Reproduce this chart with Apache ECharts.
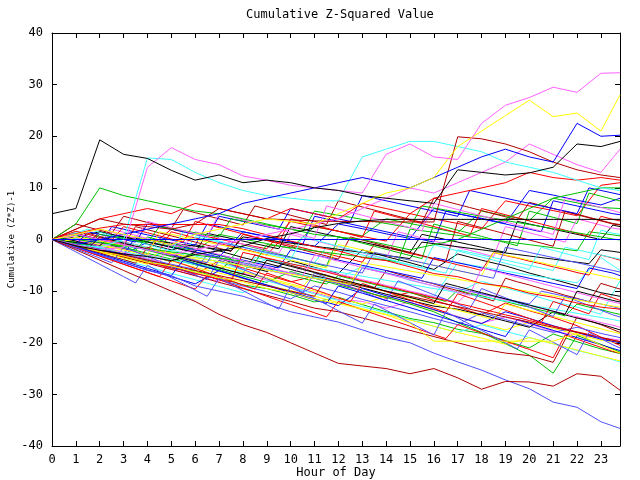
<!DOCTYPE html>
<html>
<head>
<meta charset="utf-8">
<script src="https://cdn.jsdelivr.net/npm/echarts/dist/echarts.min.js"></script>
<style>
  html, body { margin: 0; padding: 0; background: #fff; }
  #chart { width: 640px; height: 480px; }
</style>
</head>
<body>
<div id="chart"></div>
<script>
// sample times (last sample at 23:48)
var hours = [0,1,2,3,4,5,6,7,8,9,10,11,12,13,14,15,16,17,18,19,20,21,22,23,23.8];
var halfHours = [0,0.5,1,1.5,2,2.5,3,3.5,4,4.5,5,5.5,6,6.5,7,7.5,8,8.5,9,9.5,10,10.5,11,11.5,
  12,12.5,13,13.5,14,14.5,15,15.5,16,16.5,17,17.5,18,18.5,19,19.5,20,20.5,21,21.5,22,22.5,23,23.5,23.8];

var colors = {
  R: '#ff0000', G: '#00c000', B: '#0000ff', M: '#ff60ff', C: '#40ffff',
  D: '#b00000', Y: '#ffff00', K: '#000000', S: '#5050ff'
};

// ---- distinct lines (hourly) ----
var kHump   = [5,6,19.3,16.5,15.7,13.4,11.5,12.5,11,11.5,11,10,9.5,8.5,8,7.5,7,13.5,13,12.5,12.9,14,18.5,18,19];
var mTop    = [0,-1,-2,-1.5,14,17.8,15.5,14.5,12.3,11.5,10.5,10,9.5,9,16.5,18.5,16,15.5,22.5,26,27.5,29.5,28.5,32.2,32.3];
var yTop    = [0,1,2,1,0,-1,1,2,3,4,3.5,3,5,7,9,10,12,18,21,24,27,23.8,24.5,21,28];
var bTop    = [0,-1,0,1,2,3,4,5,7,8,9,10,11,12,11,10,12,14,16,17.5,16,15,22.5,20,20.2];
var dTop    = [0,2,4,3,2.5,2,3,6,5,4,3.8,3.6,3.5,3.5,3.4,3.4,3.4,19.9,19.5,18.5,17,15,13.5,12.5,12];
var cTop    = [0,-1,-1.5,0,15.8,15.5,13,11,9.5,8.5,8,7.5,7.5,16,17.5,19,19,18,17,15,14,13,11.5,10,9.5];
var mSecond = [0,1,0,-1,-2,-3,-2,-1,0,1,2,3,4,6,8,10,9,11,13,15,18.5,16.5,14.5,13,17.5];
var gPeak   = [0,3,10,8.5,7.5,6.5,5.5,5,4,3,2,1,0.5,0,-1,-2,-1,0,2,4,6,8,9,10,10];
var rHigh   = [0,2,4,5,6,5,7,6,5,4,6,5,4,7,6,5,8,9,10,11,13,12,11.5,12,11.5];
var bZero   = [0,0,0,0,0,0,0,0,0,0,0,0,0,0,0,0,0,0,0,0,0,0,0,0,0];
var kFlat   = [0,-1.2,-2.1,-2.8,-3.3,-4.1,-2.9,-2.2,-1.3,0.2,1.1,2.3,3.1,3.6,3.9,3.9,3.9,3.9,3.9,3.9,3.9,3.9,3.9,3.9,3.9];
var yFlat   = [0,-1.1,-2.3,-3.2,-4.4,-5.1,-6.3,-7.4,-8.2,-9.5,-10.3,-11.6,-12.4,-13.5,-14.6,-16.2,-19.7,-19.7,-19.7,-19.7,-19.7,-19.7,-18.2,-20.5,-22.0];
var rFlat   = [0,1.1,2.2,2.9,2.9,2.9,2.9,2.9,2.1,0.9,-0.3,-1.4,-2.2,-3.5,-4.1,-5.3,-6.6,-7.2,-8.5,-9.1,-10.4,-11.2,-12.3,-13.1,-13.5];
var sBottom = [0,-1.5,-3,-4.5,-6,-7,-9,-10,-11,-12.5,-14,-15,-16,-17.5,-19,-20,-22,-23.7,-25.3,-27.2,-28.9,-31.5,-32.5,-35.3,-36.6];
var dBottom = [0,-2,-4,-6,-8,-10,-12,-14.5,-16.5,-18,-20,-22,-24,-24.5,-25,-26,-25,-26.8,-29,-27.5,-27.6,-28.4,-26,-26.5,-29.2];

// ---- bundle, hourly ----
var r1 = [0,-1.2,-2.5,-3.1,-4.6,-5.2,-6.8,-4.1,-5.5,-6.9,-8.2,-7.1,-8.5,-9.9,-11.4,-10.2,-11.8,-13.1,-14.6,-12.3,-13.8,-15.1,-16.7,-18.9,-20.5];
var g1 = [0,-0.8,-1.9,-3.5,-4.2,-5.6,-6.1,-7.4,-8.8,-9.5,-10.7,-12.1,-11.2,-12.6,-14.0,-15.3,-16.1,-17.4,-18.2,-19.6,-21.0,-18.3,-19.8,-21.2,-22.1];
var m1 = [0,-1.0,-2.3,-3.0,-4.4,-5.7,-7.0,-8.1,-6.5,-7.9,-9.2,-10.3,-11.6,-12.0,-13.3,-12.1,-13.6,-14.9,-16.2,-15.0,-16.3,-17.8,-18.5,-19.0,-19.5];
var c1 = [0,-0.6,-1.5,-2.8,-3.6,-2.0,-3.2,-4.4,-5.9,-3.8,-5.0,-6.3,-7.5,-5.2,-6.4,-7.9,-9.0,-10.2,-8.1,-9.4,-10.6,-12.0,-13.1,-14.5,-8.0];
var y1 = [0,-0.9,-1.8,-2.6,-3.9,-5.1,-6.4,-5.0,-6.2,-7.6,-8.9,-10.0,-11.4,-12.5,-11.0,-12.3,-13.7,-15.0,-16.3,-17.5,-16.0,-17.2,-18.4,-19.5,-20.0];
var k1 = [0,-1.1,-0.5,-1.8,-3.0,-4.3,-2.5,-3.7,-5.0,-6.2,-4.1,-5.4,-6.6,-2.0,-3.3,-4.5,-5.8,-2.8,-4.0,-5.1,-6.5,-7.7,-9.0,-10.3,-11.0];
var s1 = [0,-0.7,-1.6,-2.9,-4.0,-5.3,-6.5,-7.8,-9.0,-10.1,-11.5,-9.0,-10.2,-11.6,-12.8,-14.0,-15.3,-16.5,-14.2,-15.5,-16.8,-18.0,-17.0,-18.2,-19.0];
var g2 = [0,-1.3,-2.0,-0.8,-2.1,-3.3,-4.6,-5.8,-7.1,-8.3,-6.2,-7.5,-8.8,-10.0,-11.2,-12.5,-14.0,-16.1,-18.0,-20.2,-22.4,-25.9,-18.6,-20.3,-21.8];
var c2 = [0,-1.4,-2.7,-4.0,-5.2,-6.6,-7.8,-9.1,-10.3,-8.0,-9.3,-10.5,-11.8,-13.0,-14.2,-15.5,-16.8,-18.0,-16.5,-17.8,-19.0,-20.2,-21.5,-22.6,-23.7];
var d2 = [0,-0.9,-2.1,-3.4,-4.6,-5.8,-7.0,-8.3,-9.5,-10.8,-12.0,-13.3,-14.0,-15.2,-16.4,-17.6,-18.8,-20.0,-21.2,-22.0,-22.5,-23.8,-15.0,-16.5,-18.0];
var y2 = [0,-0.3,-1.2,-2.0,-3.1,-4.2,-5.4,-6.5,-7.6,-8.8,-9.9,-11.0,-12.2,-13.4,-14.5,-15.6,-16.8,-18.0,-19.1,-20.3,-19.0,-20.2,-21.4,-22.6,-23.5];
var k2 = [0,0.4,1.5,0.3,-0.9,-2.0,-1.0,-2.2,-3.5,-4.6,-5.8,-7.0,-8.1,-9.4,-10.6,-11.8,-12.9,-13.5,-14.6,-15.8,-17.0,-14.0,-15.2,-16.4,-17.5];
var b3 = [0,-1.6,-3.0,-4.5,-5.9,-7.2,-8.6,-6.0,-7.4,-8.8,-10.1,-11.5,-12.8,-9.5,-10.9,-12.2,-13.6,-15.0,-16.3,-14.0,-15.3,-16.7,-18.0,-19.3,-20.0];
var c4 = [0,0.2,-0.5,-1.3,-2.0,-2.8,-3.5,-4.3,-5.0,-5.8,-6.5,-7.3,-8.0,-8.8,-9.5,-10.3,-11.0,-4.5,-5.3,-6.1,-6.9,-7.6,-8.4,-3.5,-6.0];
var g5 = [0,-0.5,-1.2,0.5,-0.4,-1.3,-2.2,1.0,0.1,-0.8,-1.7,2.5,1.6,0.7,4.0,3.1,2.2,1.3,5.5,4.6,3.7,8.0,7.1,6.2,6.0];
var b5 = [0,-1.0,-2.0,-2.9,-0.5,-1.5,-2.4,-3.4,1.5,0.6,-0.4,-1.3,3.0,2.1,1.1,0.2,6.0,5.0,4.1,3.1,9.5,8.6,7.6,6.7,8.0];
var r5 = [0,1.0,0.1,-0.9,-1.8,2.0,1.0,0.1,-0.9,-1.8,3.5,2.5,1.6,0.6,-0.3,5.0,4.0,3.1,2.1,7.5,6.5,5.6,4.6,10.5,11.0];

// ---- bundle, half-hourly ----
var h01 = [0,-0.4,-0.9,1.2,0.6,0.1,-0.5, -1.0,-1.6,-2.1,1.5,0.9,0.3,-0.2, -0.8,-1.3,-1.9,-2.4,-3.0,-0.5,-1.1,
  -1.6,-2.2,-2.7,-3.3,-3.8,-4.4,-1.0, -1.6,-2.1,-2.7,-3.2,-3.8,-4.3,-4.9, -5.4,-6.0,-2.5,-3.1,-3.6,-4.2,-4.7,
  -5.3,-5.8,-6.4,-6.9,-3.0,-3.6,-4.0];
var h02 = [0,-0.6,-1.1,-1.7,-2.2,-1.0,-1.6, -2.1,-2.7,-3.2,-3.8,-4.3,-4.9,-5.4, -6.0,-4.2,-4.8,-5.3,-5.9,-6.4,-7.0,
  -7.5,-8.1,-8.6,-7.0,-7.6,-8.1,-8.7, -9.2,-9.8,-10.3,-10.9,-11.4,-12.0,-9.8, -10.4,-10.9,-11.5,-12.0,-12.6,-13.1,-13.7,
  -14.2,-14.8,-12.5,-13.1,-13.6,-14.2,-14.5];
var h03 = [0,0.3,-0.2,-0.7,-1.2,2.5,2.0, 1.4,0.9,0.4,-0.1,-0.6,-1.1,3.0, 2.5,2.0,1.5,1.0,0.5,0.0,-0.5,
  -1.0,4.5,4.0,3.5,3.0,2.5,2.0, 1.5,1.0,0.5,0.0,-0.5,5.5,5.0, 4.5,4.0,3.5,3.0,2.5,2.0,1.5,
  7.5,7.0,6.5,6.0,5.5,5.0,4.8];
var h04 = [0,-0.5,-1.0,-0.2,-0.8,-1.3,-1.9, -2.4,-3.0,-3.5,-4.1,-2.0,-2.6,-3.1, -3.7,-4.2,-4.8,-5.3,-5.9,-6.4,-7.0,
  -5.0,-5.6,-6.1,-6.7,-7.2,-7.8,-8.3, -8.9,-9.4,-10.0,-10.5,-11.1,-11.6,-12.2, -10.0,-10.6,-11.1,-11.7,-12.2,-12.8,-13.3,
  -13.9,-14.4,-15.0,-15.5,-16.1,-16.6,-17.0];
var h05 = [0,0.5,1.5,1.0,0.5,0.0,-0.5, -1.0,-1.5,-2.0,-2.5,-3.0,0.5,0.0, -0.5,-1.0,-1.5,-2.0,-2.5,-3.0,-3.5,
  -4.0,-4.5,-1.5,-2.0,-2.5,-3.0,-3.5, -4.0,-4.5,-5.0,-5.5,-6.0,-6.5,-2.0, -2.5,-3.0,-3.5,-4.0,-4.5,-5.0,-5.5,
  -6.0,-1.5,-2.0,-2.5,-3.0,-3.5,-3.8];
var h06 = [0,-0.7,-1.3,-2.0,-2.6,-3.3,-3.9, -4.6,-1.5,-2.2,-2.8,-3.5,-4.1,-4.8, -5.4,-6.1,-6.7,-3.0,-3.7,-4.3,-5.0,
  -5.6,-6.3,-6.9,-7.6,-8.2,-8.9,-9.5, -6.0,-6.7,-7.3,-8.0,-8.6,-9.3,-9.9, -10.6,-11.2,-11.9,-7.5,-8.2,-8.8,-9.5,
  -10.1,-10.8,-11.4,-12.1,-8.5,-9.2,-9.6];
var h07 = [0,-0.6,-1.2,-1.8,-2.4,-3.0,-3.6, -4.2,-4.8,-2.0,-2.6,-3.2,-3.8,-4.4, -5.0,-5.6,-6.2,-6.8,-7.4,-8.0,-8.6,
  -9.2,-6.5,-7.1,-7.7,-8.3,-8.9,-9.5, -10.1,-10.7,-11.3,-11.9,-12.5,-13.1,-13.7, -14.3,-14.9,-15.5,-12.5,-13.1,-13.7,-14.3,
  -14.9,-15.5,-16.1,-16.7,-17.3,-17.9,-18.2];
var h08 = [0,0.2,-0.3,-0.8,1.5,1.0,0.5, 0.0,-0.5,-1.0,-1.5,-2.0,-2.5,1.2, 0.7,0.2,-0.3,-0.8,-1.3,-1.8,2.5,
  2.0,1.5,1.0,0.5,0.0,-0.5,-1.0, -1.5,-2.0,-2.5,1.0,0.5,0.0,-0.5, -1.0,-1.5,-2.0,-2.5,3.5,3.0,2.5,
  2.0,1.5,1.0,0.5,0.0,2.8,2.5];
var h09 = [0,-0.3,-0.8,-1.3,-1.8,-2.3,-2.8, -3.3,-3.8,-4.3,-4.8,-5.3,-5.8,-3.0, -3.5,-4.0,-4.5,-5.0,-5.5,-6.0,-6.5,
  -7.0,-7.5,-8.0,-8.5,-9.0,-5.5,-6.0, -6.5,-7.0,-7.5,-8.0,-8.5,-9.0,-9.5, -10.0,-10.5,-11.0,-11.5,-12.0,-12.5,-10.0,
  -10.5,-11.0,-11.5,-12.0,-12.5,-13.0,-13.4];
var h10 = [0,-0.8,-1.6,-2.4,-3.2,-4.0,-4.8, -5.6,-6.4,-7.2,-4.0,-4.8,-5.6,-6.4, -7.2,-8.0,-8.8,-9.6,-6.5,-7.3,-8.1,
  -8.9,-9.7,-10.5,-11.3,-12.1,-8.5,-9.3, -10.1,-10.9,-11.7,-12.5,-13.3,-14.1,-10.5, -11.3,-12.1,-12.9,-13.7,-14.5,-15.3,-16.1,
  -12.0,-12.8,-13.6,-14.4,-10.5,-11.3,-11.8];
var h11 = [0,0.4,0.9,0.3,-0.3,-0.9,-1.5, -2.1,0.5,-0.1,-0.7,-1.3,-1.9,-2.5, -3.1,-3.7,-1.0,-1.6,-2.2,-2.8,-3.4,
  -4.0,-4.6,-5.2,0.5,-0.1,-0.7,-1.3, -1.9,-2.5,-3.1,-3.7,3.0,2.4,1.8, 1.2,0.6,0.0,-0.6,-1.2,5.5,4.9,
  4.3,3.7,3.1,9.0,8.4,7.8,7.5];
var h12 = [0,-0.5,-1.0,-1.5,-2.0,-2.5,-3.0, 0.5,0.0,-0.5,-1.0,-1.5,-2.0,-2.5, -3.0,-3.5,-4.0,-4.5,-5.0,-5.5,-2.0,
  -2.5,-3.0,-3.5,-4.0,-4.5,-5.0,-5.5, -6.0,-6.5,-7.0,-7.5,-3.5,-4.0,-4.5, -5.0,-5.5,-6.0,-6.5,-7.0,-7.5,-8.0,
  -8.5,-9.0,-9.5,-5.5,-6.0,-6.5,-7.0];
var h13 = [0,1.0,0.4,-0.2,-0.8,2.0,1.4, 0.8,0.2,-0.4,-1.0,-1.6,1.5,0.9, 0.3,-0.3,-0.9,-1.5,-2.1,-2.7,1.0,
  0.4,-0.2,-0.8,-1.4,-2.0,-2.6,-3.2, -3.8,1.5,0.9,0.3,-0.3,-0.9,-1.5, -2.1,-2.7,-3.3,2.5,1.9,1.3,0.7,
  0.1,-0.5,4.0,3.4,2.8,2.2,2.0];
var h14 = [0,-0.4,-0.8,-1.2,-1.6,-2.0,-2.4, -2.8,-3.2,-3.6,-4.0,-4.4,-4.8,-5.2, -5.6,-6.0,-6.4,-3.5,-3.9,-4.3,-4.7,
  -5.1,-5.5,-5.9,-6.3,-6.7,-7.1,-7.5, -7.9,-8.3,-8.7,-9.1,-9.5,-9.9,-10.3, -10.7,-11.1,-11.5,-11.9,-12.3,-12.7,-13.1,
  -13.5,-13.9,-14.3,-14.7,-15.1,-15.5,-15.8];
var h15 = [0,0.6,1.2,0.6,0.0,-0.6,-1.2, 2.5,1.9,1.3,0.7,0.1,-0.5,-1.1, -1.7,-2.3,1.0,0.4,-0.2,-0.8,-1.4,
  -2.0,-2.6,-3.2,-3.8,0.5,-0.1,-0.7, -1.3,-1.9,-2.5,-3.1,-3.7,-4.3,3.5, 2.9,2.3,1.7,1.1,0.5,-0.1,-0.7,
  -1.3,5.5,4.9,4.3,3.7,3.1,2.9];
var h16 = [0,0.5,0.0,-0.5,-1.0,-1.5,-2.0, -2.5,-3.0,1.5,1.0,0.5,0.0,-0.5, -1.0,-1.5,-2.0,-2.5,-3.0,-3.5,-4.0,
  -4.5,-5.0,-5.5,-1.0,-1.5,-2.0,-2.5, -3.0,-3.5,-4.0,-4.5,-5.0,-5.5,-6.0, -6.5,-7.0,-2.5,-3.0,-3.5,-4.0,-4.5,
  -5.0,-5.5,-6.0,-6.5,-7.0,-7.5,-7.8];
var h17 = [0,-0.9,-1.8,-2.7,-3.6,-4.5,-1.5, -2.4,-3.3,-4.2,-5.1,-6.0,-6.9,-7.8, -4.0,-4.9,-5.8,-6.7,-7.6,-8.5,-9.4,
  -10.3,-6.5,-7.4,-8.3,-9.2,-10.1,-11.0, -11.9,-8.0,-8.9,-9.8,-10.7,-11.6,-12.5, -13.4,-9.5,-10.4,-11.3,-12.2,-13.1,-14.0,
  -14.9,-11.0,-11.9,-12.8,-13.7,-14.6,-15.0];
var h18 = [0,-0.3,-0.6,-0.9,-1.2,0.8,0.5, 0.2,-0.1,-0.4,-0.7,-1.0,-1.3,-1.6, -1.9,-2.2,0.5,0.2,-0.1,-0.4,-0.7,
  -1.0,-1.3,-1.6,-1.9,-2.2,-2.5,-2.8, -3.1,-3.4,-3.7,-0.5,-0.8,-1.1,-1.4, -1.7,-2.0,-2.3,-2.6,-2.9,-3.2,-3.5,
  -3.8,-4.1,-4.4,-4.7,-2.0,-2.3,-2.5];
var h19 = [0,-0.5,-1.1,-1.6,-2.2,-2.7,-3.3, -3.8,-4.4,-4.9,-5.5,-6.0,-6.6,-7.1, -7.7,-8.2,-2.5,-3.0,-3.6,-4.1,-4.7,
  -5.2,-5.8,-6.3,-6.9,-7.4,-8.0,-8.5, -9.1,-9.6,-10.2,-10.7,-11.3,-11.8,-12.4, -12.9,-13.5,-14.0,-14.6,-15.1,-15.7,-16.2,
  -16.8,-17.3,-17.9,-18.4,-19.0,-19.5,-19.8];
var h20 = [0,0.3,0.0,-0.3,-0.6,-0.9,-1.2, -1.5,-1.8,-2.1,-2.4,-2.7,-3.0,-3.3, -3.6,-3.9,-4.2,-4.5,-1.0,-1.3,-1.6,
  -1.9,-2.2,-2.5,-2.8,-3.1,-3.4,-3.7, -4.0,-4.3,2.0,1.7,1.4,1.1,0.8, 0.5,0.2,-0.1,-0.4,-0.7,-1.0,-1.3,
  -1.6,-1.9,-2.2,1.5,1.2,0.9,0.7];
var h21 = [0,-0.7,-1.4,-2.1,-2.8,-3.5,-4.2, -4.9,-5.6,-6.3,-7.0,-4.0,-4.7,-5.4, -6.1,-6.8,-7.5,-8.2,-8.9,-9.6,-10.3,
  -11.0,-11.7,-12.4,-9.0,-9.7,-10.4,-11.1, -11.8,-12.5,-13.2,-13.9,-14.6,-15.3,-16.0, -16.7,-17.4,-18.1,-18.8,-15.5,-16.2,-16.9,
  -17.6,-18.3,-19.0,-19.7,-20.4,-21.1,-21.5];
var h22 = [0,0.5,-0.1,-0.7,-1.3,-1.9,-2.5, -3.1,-3.7,-4.3,-0.5,-1.1,-1.7,-2.3, -2.9,-3.5,-4.1,-4.7,-5.3,-5.9,-6.5,
  -7.1,-3.0,-3.6,-4.2,-4.8,-5.4,-6.0, -6.6,-7.2,-7.8,-8.4,-9.0,-9.6,-10.2, -10.8,-5.5,-6.1,-6.7,-7.3,-7.9,-8.5,
  -9.1,-9.7,-10.3,-10.9,-11.5,-12.1,-12.4];
var h23 = [0,0.6,1.2,2.0,1.4,0.8,0.2, -0.4,-1.0,-1.6,-2.2,1.5,0.9,0.3, -0.3,-0.9,-1.5,-2.1,-2.7,-3.3,-3.9,
  0.5,-0.1,-0.7,-1.3,-1.9,-2.5,-3.1, -3.7,-4.3,-4.9,-5.5,-1.0,-1.6,-2.2, -2.8,-3.4,-4.0,-4.6,-5.2,-5.8,-1.5,
  -2.1,-2.7,-3.3,-3.9,1.8,1.2,1.0];
var h24 = [0,-0.5,-1.0,-1.5,-2.0,-2.5,-3.0, -3.5,-4.0,-4.5,-5.0,-5.5,-6.0,-6.5, -7.0,-7.5,-8.0,-8.5,-9.0,-9.5,-10.0,
  -10.5,-11.0,-7.5,-8.0,-8.5,-9.0,-9.5, -10.0,-10.5,-11.0,-11.5,-12.0,-12.5,-13.0, -13.5,-14.0,-14.5,-15.0,-15.5,-16.0,-16.5,
  -17.0,-17.5,-18.0,-18.5,-19.0,-19.5,-19.8];
var h25 = [0,-0.4,0.5,0.1,-0.3,-0.7,-1.1, -1.5,-1.9,-2.3,-2.7,-3.1,-3.5,-3.9, -4.3,-4.7,-5.1,-5.5,-5.9,-6.3,-6.7,
  -7.1,-7.5,-7.9,-8.3,-8.7,-4.5,-4.9, -5.3,-5.7,-6.1,-6.5,-6.9,-7.3,-7.7, -8.1,-8.5,-8.9,-9.3,-9.7,-10.1,-10.5,
  -10.9,-11.3,-11.7,-12.1,-12.5,-12.9,-13.1];
var h26 = [0,-0.6,-1.2,-1.8,0.5,-0.1,-0.7, -1.3,-1.9,-2.5,-3.1,-3.7,-4.3,-4.9, -5.5,-6.1,-6.7,-7.3,-4.0,-4.6,-5.2,
  -5.8,-6.4,-7.0,-7.6,-8.2,-8.8,-9.4, -10.0,-10.6,-11.2,-11.8,-12.4,-8.5,-9.1, -9.7,-10.3,-10.9,-11.5,-12.1,-12.7,-13.3,
  -13.9,-14.5,-10.0,-10.6,-11.2,-11.8,-12.1];
var h27 = [0,0.5,1.0,0.5,0.0,-0.5,-1.0, -1.5,-2.0,-2.5,-3.0,-3.5,-4.0,-4.5, -0.5,-1.0,-1.5,-2.0,-2.5,-3.0,-3.5,
  -4.0,-4.5,-5.0,-5.5,-6.0,-6.5,-2.5, -3.0,-3.5,-4.0,-4.5,-5.0,-5.5,-6.0, -6.5,-7.0,-7.5,-1.5,-2.0,-2.5,-3.0,
  -3.5,-4.0,-4.5,-5.0,-5.5,-6.0,-6.3];
var h28 = [0,-0.8,-1.6,-2.4,-3.2,-4.0,-4.8, -5.6,-6.4,-7.2,-8.0,-8.8,-9.6,-7.0, -7.8,-8.6,-9.4,-10.2,-11.0,-11.8,-12.6,
  -13.4,-14.2,-15.0,-12.0,-12.8,-13.6,-14.4, -15.2,-16.0,-16.8,-17.6,-18.4,-19.2,-16.5, -17.3,-18.1,-18.9,-19.7,-20.5,-21.3,-22.1,
  -22.9,-18.5,-19.3,-20.1,-20.9,-21.7,-22.0];
// upper part of the bundle
var u1 = [0,1.5,3.0,2.4,1.8,1.2,4.5, 3.9,3.3,2.7,2.1,5.8,5.2,4.6, 4.0,3.4,2.8,6.5,5.9,5.3,4.7,
  4.1,3.5,2.9,7.5,6.9,6.3,5.7, 5.1,4.5,3.9,3.3,8.0,7.4,6.8, 6.2,5.6,5.0,4.4,3.8,7.2,6.6,
  6.0,5.4,4.8,4.2,3.6,3.0,2.8];
var u2 = [0,-0.5,-1.0,1.5,1.0,0.5,0.0, -0.5,3.0,2.5,2.0,1.5,1.0,0.5, 4.5,4.0,3.5,3.0,2.5,2.0,6.0,
  5.5,5.0,4.5,4.0,3.5,8.5,8.0, 7.5,7.0,6.5,6.0,5.5,5.0,4.5, 9.5,9.0,8.5,8.0,7.5,7.0,6.5,
  6.0,5.5,5.0,10.0,9.5,9.0,8.7];
var u3 = [0,0.8,1.6,1.0,0.4,-0.2,2.5, 1.9,1.3,0.7,0.1,-0.5,3.5,2.9, 2.3,1.7,1.1,0.5,-0.1,-0.7,4.0,
  3.4,2.8,2.2,1.6,1.0,0.4,5.5, 4.9,4.3,3.7,3.1,2.5,1.9,1.3, 0.7,6.0,5.4,4.8,4.2,3.6,3.0,
  2.4,1.8,1.2,0.6,4.5,3.9,3.6];
var u4 = [0,-0.4,-0.8,-1.2,1.0,0.6,0.2, -0.2,-0.6,2.5,2.1,1.7,1.3,0.9, 0.5,4.0,3.6,3.2,2.8,2.4,2.0,
  1.6,5.5,5.1,4.7,4.3,3.9,3.5, 3.1,2.7,2.3,6.5,6.1,5.7,5.3, 4.9,4.5,4.1,3.7,3.3,2.9,2.5,
  2.1,1.7,1.3,0.9,0.5,0.1,-0.1];
var u5 = [0,-1.2,-2.4,-3.6,-4.8,-6.0,-7.2, -8.4,-5.0,-6.2,-7.4,-8.6,-9.8,-11.0, -7.5,-8.7,-9.9,-11.1,-12.3,-13.5,-9.0,
  -10.2,-11.4,-12.6,-13.8,-15.0,-16.2,-12.5, -13.7,-14.9,-16.1,-17.3,-18.5,-14.0,-15.2, -16.4,-17.6,-18.8,-20.0,-21.2,-17.5,-18.7,
  -19.9,-21.1,-22.3,-18.0,-19.2,-20.4,-21.0];
var u6 = [0,0.5,1.0,1.5,2.0,1.4,0.8, 0.2,3.5,2.9,2.3,1.7,1.1,0.5, 5.0,4.4,3.8,3.2,2.6,2.0,1.4,
  0.8,0.2,6.5,5.9,5.3,4.7,4.1, 3.5,2.9,2.3,1.7,7.0,6.4,5.8, 5.2,4.6,4.0,3.4,2.8,2.2,1.6,
  1.0,8.0,7.4,6.8,6.2,5.6,5.2];

// [colour key, x values, y values]
var lines = [
  ['R', hours, r1], ['G', hours, g1], ['M', hours, m1], ['C', hours, c1], ['Y', hours, y1], ['K', hours, k1],
  ['S', hours, s1], ['G', hours, g2], ['C', hours, c2], ['D', hours, d2], ['Y', hours, y2], ['K', hours, k2],
  ['B', hours, b3], ['C', hours, c4], ['G', hours, g5], ['B', hours, b5], ['R', hours, r5],
  ['R', halfHours, h01], ['G', halfHours, h02], ['B', halfHours, h03], ['M', halfHours, h04],
  ['C', halfHours, h05], ['D', halfHours, h06], ['Y', halfHours, h07], ['K', halfHours, h08],
  ['S', halfHours, h09], ['R', halfHours, h10], ['G', halfHours, h11], ['B', halfHours, h12],
  ['M', halfHours, h13], ['C', halfHours, h14], ['D', halfHours, h15], ['Y', halfHours, h16],
  ['S', halfHours, h17], ['K', halfHours, h18], ['R', halfHours, h19], ['G', halfHours, h20],
  ['B', halfHours, h21], ['M', halfHours, h22], ['C', halfHours, h23], ['D', halfHours, h24],
  ['Y', halfHours, h25], ['K', halfHours, h26], ['S', halfHours, h27], ['R', halfHours, h28],
  ['D', halfHours, u1], ['B', halfHours, u2], ['R', halfHours, u3], ['G', halfHours, u4],
  ['S', halfHours, u5], ['M', halfHours, u6],
  ['Y', hours, yFlat], ['R', hours, rFlat], ['S', hours, sBottom], ['D', hours, dBottom],
  ['R', hours, rHigh], ['G', hours, gPeak], ['M', hours, mSecond], ['C', hours, cTop], ['D', hours, dTop],
  ['B', hours, bTop], ['Y', hours, yTop], ['M', hours, mTop], ['K', hours, kHump], ['K', hours, kFlat],
  ['B', hours, bZero]
];

var font = 'DejaVu Sans Mono';

var seriesList = lines.map(function (l) {
  var xs = l[1], ys = l[2];
  return {
    type: 'line',
    symbol: 'none',
    silent: true,
    lineStyle: { color: colors[l[0]], width: 1 },
    data: xs.map(function (h, i) { return [h, ys[i]]; })
  };
});

var chart = echarts.init(document.getElementById('chart'));
var axisLine = { onZero: false, lineStyle: { color: '#000', width: 1 } };
var tick = { inside: true, length: 5, lineStyle: { color: '#000', width: 1 } };

chart.setOption({
  animation: false,
  backgroundColor: '#fff',
  title: {
    text: 'Cumulative Z-Squared Value',
    left: 246,
    top: 9,
    padding: 0,
    textStyle: { fontFamily: font, fontSize: 12, fontWeight: 'normal', color: '#000' }
  },
  grid: { left: 52, right: 20, top: 33, bottom: 34, outerBoundsMode: 'none', containLabel: false },
  xAxis: [
    {
      type: 'value', min: 0, max: 23.8, interval: 1, position: 'bottom',
      name: 'Hour of Day', nameLocation: 'middle', nameGap: 21, nameMoveOverlap: false,
      nameTextStyle: { fontFamily: font, fontSize: 12, color: '#000' },
      axisLine: axisLine, axisTick: tick, splitLine: { show: false },
      axisLabel: { showMaxLabel: false, margin: 8, fontFamily: font, fontSize: 12, color: '#000' }
    },
    {
      type: 'value', min: 0, max: 23.8, interval: 1, position: 'top',
      axisLine: axisLine, axisTick: tick, splitLine: { show: false },
      axisLabel: { show: false }
    }
  ],
  yAxis: [
    {
      type: 'value', min: -40, max: 40, interval: 10, position: 'left',
      name: 'Cumulative (Z*Z)-1', nameLocation: 'middle', nameGap: 36, nameRotate: 90, nameMoveOverlap: false,
      nameTextStyle: { fontFamily: font, fontSize: 9, color: '#000' },
      axisLine: axisLine, axisTick: tick, splitLine: { show: false },
      axisLabel: { margin: 9, fontFamily: font, fontSize: 12, color: '#000' }
    },
    {
      type: 'value', min: -40, max: 40, interval: 10, position: 'right',
      axisLine: axisLine, axisTick: tick, splitLine: { show: false },
      axisLabel: { show: false }
    }
  ],
  series: seriesList
});
</script>
</body>
</html>
